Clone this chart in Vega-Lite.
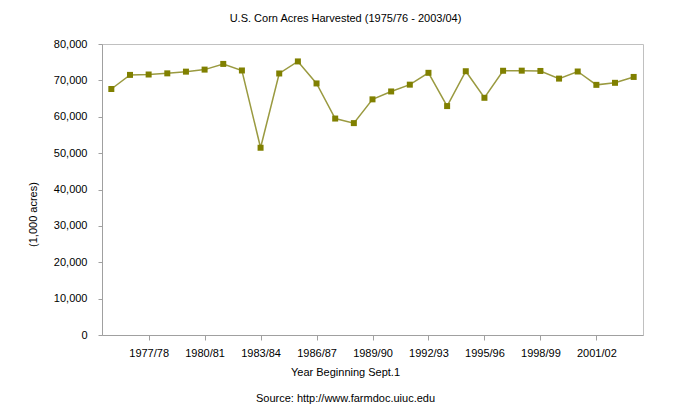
{
  "$schema": "https://vega.github.io/schema/vega-lite/v6.json",
  "width": 541,
  "height": 291,
  "autosize": {"type": "none"},
  "padding": {"left": 102, "top": 44, "right": 48, "bottom": 83},
  "background": "white",
  "title": {
    "text": "U.S. Corn Acres Harvested (1975/76 - 2003/04)",
    "font": "Liberation Sans",
    "fontSize": 11,
    "fontWeight": "normal",
    "color": "#000000",
    "anchor": "middle",
    "dx": -27,
    "offset": 14
  },
  "config": {
    "view": {"stroke": "#c0c0c0", "strokeWidth": 1},
    "axis": {
      "labelFont": "Liberation Sans",
      "titleFont": "Liberation Sans",
      "labelFontSize": 11,
      "titleFontSize": 11,
      "titleFontWeight": "normal",
      "labelColor": "#000000",
      "titleColor": "#000000",
      "domainColor": "#a0a0a0",
      "tickColor": "#a0a0a0",
      "grid": false
    }
  },
  "data": {
    "values": [
      {"year": "1975/76", "acres": 67625},
      {"year": "1976/77", "acres": 71506},
      {"year": "1977/78", "acres": 71614},
      {"year": "1978/79", "acres": 71930},
      {"year": "1979/80", "acres": 72400},
      {"year": "1980/81", "acres": 72961},
      {"year": "1981/82", "acres": 74524},
      {"year": "1982/83", "acres": 72719},
      {"year": "1983/84", "acres": 51479},
      {"year": "1984/85", "acres": 71897},
      {"year": "1985/86", "acres": 75209},
      {"year": "1986/87", "acres": 69158},
      {"year": "1987/88", "acres": 59505},
      {"year": "1988/89", "acres": 58250},
      {"year": "1989/90", "acres": 64783},
      {"year": "1990/91", "acres": 66952},
      {"year": "1991/92", "acres": 68822},
      {"year": "1992/93", "acres": 72077},
      {"year": "1993/94", "acres": 62933},
      {"year": "1994/95", "acres": 72514},
      {"year": "1995/96", "acres": 65210},
      {"year": "1996/97", "acres": 72644},
      {"year": "1997/98", "acres": 72671},
      {"year": "1998/99", "acres": 72589},
      {"year": "1999/00", "acres": 70487},
      {"year": "2000/01", "acres": 72440},
      {"year": "2001/02", "acres": 68768},
      {"year": "2002/03", "acres": 69330},
      {"year": "2003/04", "acres": 70944}
    ]
  },
  "encoding": {
    "x": {
      "field": "year",
      "type": "ordinal",
      "sort": null,
      "scale": {"type": "point", "padding": 0.5},
      "axis": {
        "values": ["1977/78", "1980/81", "1983/84", "1986/87", "1989/90", "1992/93", "1995/96", "1998/99", "2001/02"],
        "labelAngle": 0,
        "tickSize": 5,
        "labelPadding": 7,
        "domain": true,
        "title": ["Year Beginning Sept.1", "Source: http://www.farmdoc.uiuc.edu"],
        "titleLineHeight": 26,
        "titleX": 243,
        "titleAnchor": "middle",
        "titlePadding": 8
      }
    },
    "y": {
      "field": "acres",
      "type": "quantitative",
      "scale": {"domain": [0, 80000], "nice": false},
      "axis": {
        "values": [0, 10000, 20000, 30000, 40000, 50000, 60000, 70000, 80000],
        "format": ",d",
        "tickSize": 4,
        "labelPadding": 11,
        "title": "(1,000 acres)",
        "titleX": -69,
        "titleY": 170,
        "titleAngle": -90,
        "titleAlign": "center",
        "titleBaseline": "middle"
      }
    }
  },
  "layer": [
    {"mark": {"type": "line", "color": "#9a9a40", "strokeWidth": 1.5}},
    {"mark": {"type": "square", "color": "#808000", "opacity": 1, "filled": true, "size": 36}}
  ]
}
